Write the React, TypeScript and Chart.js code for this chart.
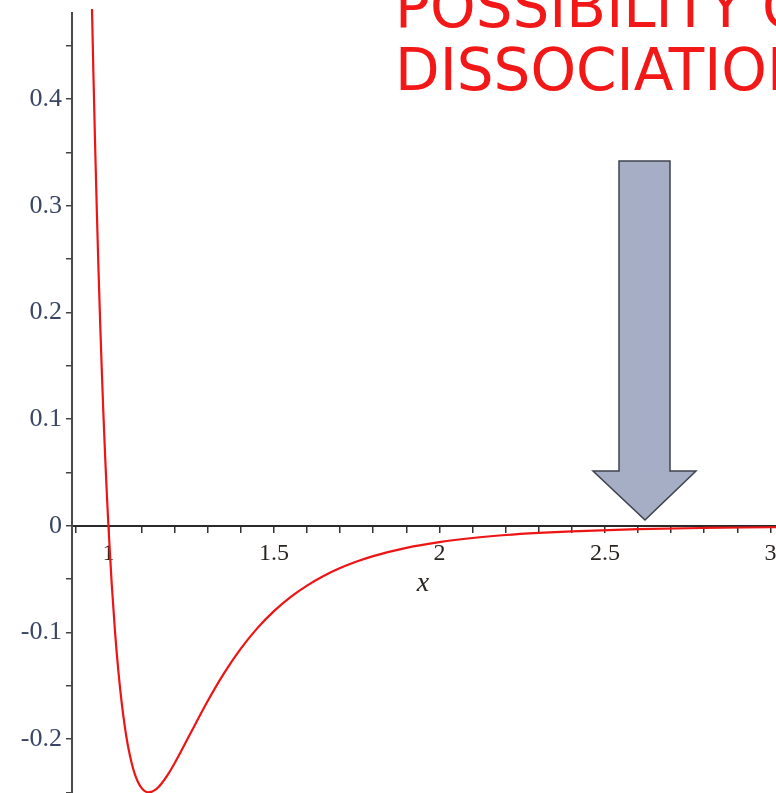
import { useEffect, useRef } from 'react';
import { Chart, registerables } from 'chart.js';

Chart.register(...registerables);

// Curve (x, potential)
const xValues = [
  0.945, 0.95, 0.955, 0.96, 0.965, 0.97, 0.975, 0.98, 0.985, 0.99, 0.995, 1.0,
  1.01, 1.02, 1.03, 1.04, 1.05, 1.055, 1.06, 1.07, 1.075, 1.08, 1.09, 1.1, 1.11,
  1.12, 1.13, 1.14, 1.15, 1.16, 1.18, 1.2, 1.22, 1.25, 1.3, 1.35, 1.4, 1.45, 1.5,
  1.55, 1.6, 1.65, 1.7, 1.75, 1.8, 1.9, 2.0, 2.1, 2.2, 2.3, 2.4, 2.6, 2.8, 3.0, 3.05,
];
const yValues = [
  0.567, 0.4902, 0.4195, 0.3546, 0.2951, 0.2407, 0.191, 0.1455, 0.1039, 0.066, 0.0315, 0.0,
  -0.0546, -0.0995, -0.1361, -0.1657, -0.1894, -0.1993, -0.208, -0.2223, -0.2281, -0.2331, -0.2407, -0.2458, -0.2488,
  -0.25, -0.2496, -0.248, -0.2454, -0.242, -0.2332, -0.2227, -0.2113, -0.1934, -0.1643, -0.1379, -0.1152, -0.096, -0.0801,
  -0.0669, -0.0561, -0.0471, -0.0397, -0.0336, -0.0285, -0.0208, -0.0154, -0.0115, -0.0087, -0.0067, -0.0052, -0.0032, -0.0021, -0.0014, -0.0012,
];

const xTickValues = [0.9, 1.0, 1.1, 1.2, 1.3, 1.4, 1.5, 1.6, 1.7, 1.8, 1.9, 2.0, 2.1, 2.2, 2.3, 2.4, 2.5, 2.6, 2.7, 2.8, 2.9, 3.0];
const xTickLabelValues = [1, 1.5, 2, 2.5, 3];
const xTickLabels = ['1', '1.5', '2', '2.5', '3'];

const yTickValues = [-0.25, -0.2, -0.15, -0.1, -0.05, 0, 0.05, 0.1, 0.15, 0.2, 0.25, 0.3, 0.35, 0.4, 0.45];
const yTickLabelValues = [-0.2, -0.1, 0, 0.1, 0.2, 0.3, 0.4];
const yTickLabels = ['-0.2', '-0.1', '0', '0.1', '0.2', '0.3', '0.4'];

const xMin = 0.89;
const xMax = 3.05;
const yMin = -0.26;
const yMax = 0.4808;

const axisLabel = 'x';
const noteLines = ['POSSIBILITY OF', 'DISSOCIATION'];

function labelFor(values: number[], labels: string[], v: number): string {
  const i = values.findIndex((t) => Math.abs(t - v) < 1e-6);
  return i >= 0 ? labels[i] : '';
}

function zeroPadding(s: any) {
  s.paddingTop = 0;
  s.paddingBottom = 0;
  s.paddingLeft = 0;
  s.paddingRight = 0;
}

export default function App() {
  const canvasRef = useRef<HTMLCanvasElement | null>(null);

  useEffect(() => {
    const canvas = canvasRef.current;
    if (!canvas) return;
    const chart = new Chart(canvas, {
      type: 'line',
      data: {
        datasets: [
          {
            data: xValues.map((x, i) => ({ x, y: yValues[i] })),
            borderColor: '#ee1414',
            borderWidth: 2.2,
            pointRadius: 0,
            cubicInterpolationMode: 'monotone',
            clip: { left: 0, top: 4, right: 0, bottom: 0 },
          } as any,
        ],
      },
      options: {
        animation: false,
        responsive: false,
        maintainAspectRatio: false,
        layout: { padding: { left: 0, top: 13, right: 0, bottom: 0 } },
        plugins: { legend: { display: false }, tooltip: { enabled: false } },
        scales: {
          x: {
            type: 'linear',
            min: xMin,
            max: xMax,
            position: { y: 0 } as any,
            afterFit: (s: any) => {
              s.height = 0;
              zeroPadding(s);
            },
            afterBuildTicks: (s: any) => {
              s.ticks = xTickValues.map((v) => ({ value: v }));
            },
            grid: {
              display: true,
              drawOnChartArea: false,
              drawTicks: true,
              tickLength: 6,
              color: '#333',
              lineWidth: 1.5,
            },
            border: { display: true, color: '#2a2a2a', width: 2 },
            ticks: {
              autoSkip: false,
              maxRotation: 0,
              minRotation: 0,
              padding: 8,
              color: '#2a2520',
              font: { family: 'Liberation Serif', size: 24 },
              callback: (v: any) => labelFor(xTickLabelValues, xTickLabels, Number(v)),
            },
          },
          y: {
            type: 'linear',
            min: yMin,
            max: yMax,
            position: 'left',
            afterFit: (s: any) => {
              s.width = 72;
              zeroPadding(s);
            },
            afterBuildTicks: (s: any) => {
              s.ticks = yTickValues.map((v) => ({ value: v }));
            },
            grid: {
              display: true,
              drawOnChartArea: false,
              drawTicks: true,
              tickLength: 6,
              color: '#444',
              lineWidth: 1.5,
            },
            border: { display: true, color: '#4a4a4a', width: 2 },
            ticks: {
              autoSkip: false,
              padding: 4,
              color: '#3a4565',
              font: { family: 'Liberation Serif', size: 26 },
              callback: (v: any) => labelFor(yTickLabelValues, yTickLabels, Number(v)),
            },
          },
        },
      },
    });
    return () => chart.destroy();
  }, []);

  return (
    <div
      style={{
        position: 'fixed',
        left: 0,
        top: 0,
        width: 776,
        height: 793,
        overflow: 'hidden',
        background: '#ffffff',
      }}
    >
      <canvas
        ref={canvasRef}
        width={787}
        height={803}
        style={{ position: 'absolute', left: 0, top: 0, width: 787, height: 803 }}
      />
      <svg
        width={776}
        height={793}
        style={{ position: 'absolute', left: 0, top: 0, pointerEvents: 'none' }}
      >
        <text x={395} y={27} fill="#f31818" fontFamily="DejaVu Sans" fontSize={58}>
          {noteLines[0]}
        </text>
        <text x={395} y={90} fill="#f31818" fontFamily="DejaVu Sans" fontSize={58}>
          {noteLines[1]}
        </text>
        <polygon
          points="619,161 670,161 670,471 696,471 645,520 593,471 619,471"
          fill="#a5aec4"
          stroke="#3f434d"
          strokeWidth={1.5}
          strokeLinejoin="miter"
        />
        <text
          x={423}
          y={591}
          fill="#2a2520"
          fontFamily="Liberation Serif"
          fontStyle="italic"
          fontSize={28}
          textAnchor="middle"
        >
          {axisLabel}
        </text>
      </svg>
    </div>
  );
}
